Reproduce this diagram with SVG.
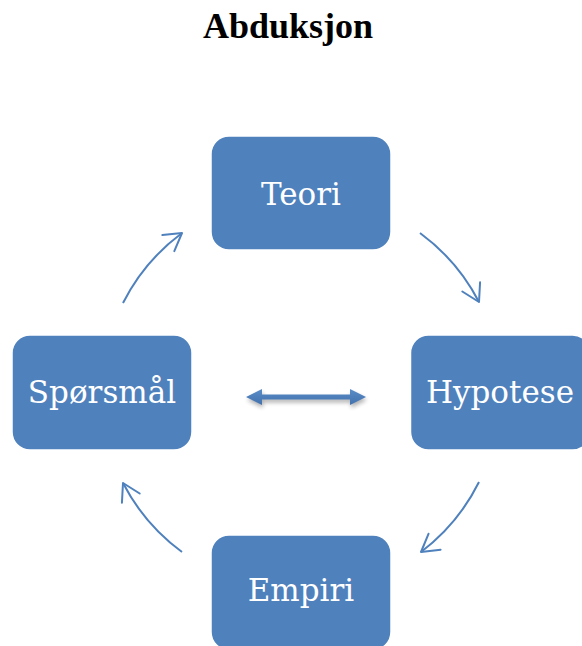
<svg xmlns="http://www.w3.org/2000/svg" width="582" height="646" viewBox="0 0 582 646">
  <defs>
    <style>
      .title { font-family: "Liberation Serif", "Times New Roman", serif; font-weight: bold; font-size: 36px; fill: #000; }
      .box { fill: #4F81BD; stroke: #ffffff; stroke-width: 1.5; }
      .label { font-family: "DejaVu Serif", "Liberation Serif", serif; font-size: 31px; fill: #ffffff; text-anchor: middle; }
      .cycle { fill: none; stroke: #4F81BD; stroke-width: 2; marker-end: url(#chevron); }
    </style>
    <marker id="chevron" markerUnits="userSpaceOnUse" markerWidth="40" markerHeight="40" viewBox="-20 -20 40 40" refX="0" refY="0" orient="auto">
      <path d="M-17,-10 L0,0 L-17,10" fill="none" stroke="#4F81BD" stroke-width="2" stroke-linejoin="round" stroke-linecap="round"/>
    </marker>
    <filter id="soft" x="-20%" y="-50%" width="140%" height="200%">
      <feGaussianBlur stdDeviation="2"/>
    </filter>
    <linearGradient id="shaft" x1="0" y1="0" x2="0" y2="1">
      <stop offset="0" stop-color="#5A8CC8"/>
      <stop offset="1" stop-color="#4272AE"/>
    </linearGradient>
  </defs>

  <rect width="582" height="646" fill="#ffffff"/>

  <text class="title" x="288" y="38" text-anchor="middle">Abduksjon</text>

  <!-- cycle connectors: arcs on a common circle around the centre -->
  <g id="connectors">
    <path class="cycle" d="M420,233 A199,199 0 0,1 479,302"/>
    <path class="cycle" d="M479,482 A199,199 0 0,1 421,552"/>
    <path class="cycle" d="M182,552 A199,199 0 0,1 123,483"/>
    <path class="cycle" d="M123,303 A199,199 0 0,1 182,233"/>
    <!-- central two-way block arrow with drop shadow -->
    <g id="double-arrow">
      <path d="M246,397 L262,389 L262,394.5 L350,394.5 L350,389 L366,397 L350,405 L350,399.5 L262,399.5 L262,405 Z" fill="#000" opacity="0.3" filter="url(#soft)" transform="translate(1,3)"/>
      <path d="M246,397 L262,389 L262,394.5 L350,394.5 L350,389 L366,397 L350,405 L350,399.5 L262,399.5 L262,405 Z" fill="url(#shaft)"/>
    </g>
  </g>

  <g id="teori">
    <rect class="box" x="211" y="136" width="180" height="114" rx="18"/>
    <text class="label" x="301" y="205">Teori</text>
  </g>
  <g id="hypotese">
    <rect class="box" x="410.5" y="335" width="180" height="115" rx="18"/>
    <text class="label" x="500" y="403">Hypotese</text>
  </g>
  <g id="empiri">
    <rect class="box" x="211" y="535" width="180" height="115" rx="18"/>
    <text class="label" x="301" y="601">Empiri</text>
  </g>
  <g id="sporsmal">
    <rect class="box" x="12" y="335" width="180" height="115" rx="18"/>
    <text class="label" x="102" y="403">Spørsmål</text>
  </g>
</svg>
